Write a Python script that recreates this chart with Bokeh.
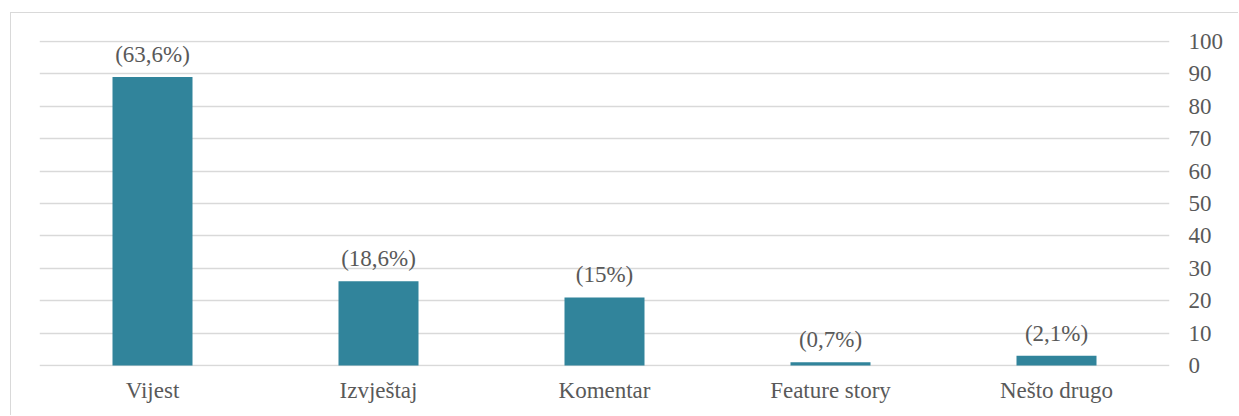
from bokeh.plotting import figure
from bokeh.models import ColumnDataSource, LinearAxis, FixedTicker, Range1d, Grid
from bokeh.core.properties import value
from bokeh.embed import file_html
from bokeh.resources import INLINE

categories = ["Vijest", "Izvještaj", "Komentar", "Feature story", "Nešto drugo"]
counts = [89, 26, 21, 1, 3]
labels = ["(63,6%)", "(18,6%)", "(15%)", "(0,7%)", "(2,1%)"]
y_ticks = [0, 10, 20, 30, 40, 50, 60, 70, 80, 90, 100]

FONT = "Liberation Serif"
TXT = "#595959"
GRID = "#d9d9d9"
BAR = "#31849B"

src = ColumnDataSource(dict(cat=categories, val=counts, lab=labels))

p = figure(x_range=categories, y_range=Range1d(-0.3, 100.3), width=1228, height=403,
           output_backend="svg", toolbar_location=None,
           min_border_left=28, min_border_right=70, min_border_top=27, min_border_bottom=50,
           y_axis_location=None)
p.styles = {"border-left": "1.5px solid #d9d9d9", "border-top": "1.5px solid #d9d9d9",
            "margin-left": "10px", "margin-top": "12px"}
p.outline_line_color = None
p.background_fill_color = "white"
p.border_fill_color = "white"

p.vbar(x="cat", top="val", width=0.354, source=src, fill_color=BAR, line_color=None)
p.text(x="cat", y="val", text="lab", source=src, text_align="center", text_baseline="bottom",
       y_offset=-10, text_font=value(FONT), text_font_size="23px", text_color=TXT)

yax = LinearAxis(ticker=FixedTicker(ticks=y_ticks))
yax.axis_line_color = None
yax.major_tick_line_color = None
yax.minor_tick_line_color = None
yax.major_label_standoff = 13
yax.major_label_text_font = FONT
yax.major_label_text_font_size = "23px"
yax.major_label_text_color = TXT
p.add_layout(yax, "right")

xax = p.xaxis[0]
xax.axis_line_color = None
xax.major_tick_line_color = None
xax.minor_tick_line_color = None
xax.major_label_standoff = 5
xax.major_label_text_font = FONT
xax.major_label_text_font_size = "23px"
xax.major_label_text_color = TXT

p.xgrid.grid_line_color = None
p.ygrid.grid_line_color = None
g = Grid(dimension=1, ticker=yax.ticker, grid_line_color=GRID, grid_line_width=1.5)
p.add_layout(g)

open("out.html", "w").write(file_html(p, INLINE))
